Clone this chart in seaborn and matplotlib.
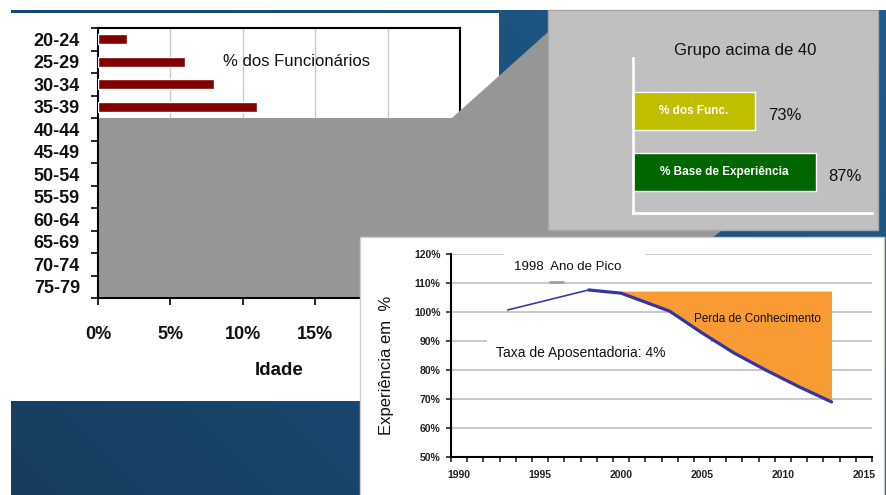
import numpy as np
import pandas as pd
import matplotlib
matplotlib.use("Agg")
import matplotlib.pyplot as plt
from matplotlib.patches import Rectangle, Polygon
from matplotlib.ticker import FixedLocator, FuncFormatter
import seaborn as sns

sns.set_style("white")
plt.rcParams["font.family"] = ["Liberation Sans", "DejaVu Sans"]

# ---------------- data ----------------
# workforce age profile (share of employees per age band)
age_groups = ["20-24", "25-29", "30-34", "35-39", "40-44", "45-49",
              "50-54", "55-59", "60-64", "65-69", "70-74", "75-79"]
age_share_groups = ["20-24", "25-29", "30-34", "35-39"]
age_share_pct = [2, 6, 8, 11]
age_axis_ticks = [0, 5, 10, 15, 20, 25]
age_axis_labels = ["0%", "5%", "10%", "15%", "", ""]

# over-40 group summary
group_labels = ["% dos Func.", "% Base de Experiência"]
group_pct = [73, 87]
group_colors = ["#bfbf00", "#006600"]

# experience base over time (% of 1993 level)
hist_years = [1993, 1998]
hist_exp = [100.7, 107.6]
proj_years = [1998, 2000, 2003, 2005, 2007, 2009, 2011, 2013]
proj_exp = [107.6, 106.5, 100.3, 92.8, 85.8, 79.8, 74.2, 69.0]
loss_start_year = 2000
loss_ceiling = 107.2
year_labels = [1990, 1995, 2000, 2005, 2010, 2015]
exp_ticks = [50, 60, 70, 80, 90, 100, 110, 120]

# ---------------- figure ----------------
W, H = 887, 495
fig = plt.figure(figsize=(W / 100, H / 100), dpi=100, facecolor="white")


def axes_px(left, top, right, bottom, z):
    ax = fig.add_axes([left / W, 1 - bottom / H, (right - left) / W, (bottom - top) / H])
    ax.set_zorder(z)
    return ax


# slide background: blue gradient with a white panel on the left
bg = axes_px(0, 0, W, H, 0)
gx = np.linspace(0, 1, 200)
gy = np.linspace(0, 1, 120)
t = 0.65 * gx[None, :] + 0.35 * (1 - gy[:, None])
c0 = np.array([0x16, 0x3d, 0x5f]) / 255
c1 = np.array([0x20, 0x5c, 0x8d]) / 255
img = c0 + t[..., None] * (c1 - c0)
bg.imshow(img, extent=(11, W, H, 10), aspect="auto", interpolation="bilinear", zorder=0)
bg.add_patch(Rectangle((0, 13), 499, 388, fc="white", ec="none", zorder=1))
bg.set_xlim(0, W)
bg.set_ylim(H, 0)
bg.axis("off")

# ---------------- age profile bars ----------------
axL = axes_px(98, 28, 460, 298, 1)
axL.set_facecolor("white")
df_age = pd.DataFrame({"Faixa": age_share_groups, "Pct": age_share_pct})
for v in age_axis_ticks[1:-1]:
    axL.axvline(v, color="#c8c8c8", lw=1.0, zorder=0)
sns.barplot(data=df_age, x="Pct", y="Faixa", order=age_groups, orient="h",
            color="#800000", width=0.46, saturation=1, ax=axL, zorder=3)
axL.set_xlim(0, 25)
axL.set_ylim(len(age_groups) - 0.5, -0.5)
axL.set_xticks(age_axis_ticks)
axL.set_xticklabels(age_axis_labels)
axL.set_yticks(range(len(age_groups)))
axL.set_yticklabels(age_groups)
axL.yaxis.set_minor_locator(FixedLocator(np.arange(-0.5, len(age_groups), 1.0)))
axL.tick_params(axis="y", which="major", length=0, pad=13, labelsize=13, labelcolor="#111111")
axL.tick_params(axis="y", which="minor", length=5, width=1.4, direction="out", left=True)
axL.tick_params(axis="x", which="major", length=5, width=1.4, direction="out", pad=15,
                labelsize=13, labelcolor="#111111", bottom=True)
for lbl in axL.get_xticklabels() + axL.get_yticklabels():
    lbl.set_fontweight("bold")
for s in axL.spines.values():
    s.set_color("black")
    s.set_linewidth(1.5)
axL.set_ylabel("")
axL.set_xlabel("Idade", fontsize=13.5, fontweight="bold", labelpad=14, color="#111111")
axL.text(8.6, 1, "% dos Funcionários", fontsize=12, va="center", ha="left", color="#111111")

# ---------------- overlay shapes ----------------
ov = axes_px(0, 0, W, H, 2)
ov.patch.set_alpha(0)
ov.add_patch(Polygon([(99, 118), (452, 118), (548, 32), (725, 32), (725, 228),
                      (712, 238), (360, 238), (360, 297), (99, 297)],
                     closed=True, fc="#969696", ec="none", zorder=1))
ov.add_patch(Rectangle((548, 10), 330, 220, fc="#c0c0c0", ec="#a6a6a6", lw=1, zorder=2))
ov.add_patch(Rectangle((360, 237), 524, 262, fc="white", ec="#cfcfcf", lw=1, zorder=2))
ov.text(745, 50, "Grupo acima de 40", fontsize=12, ha="center", va="center",
        color="#111111", zorder=4)
ov.text(387, 365, "Experiência em  %", fontsize=12, rotation=90, ha="center",
        va="center", color="#111111", zorder=4)
ov.set_xlim(0, W)
ov.set_ylim(H, 0)
ov.axis("off")

# ---------------- over-40 group bars ----------------
axB = axes_px(633, 58, 872, 213, 3)
axB.patch.set_alpha(0)
df_grp = pd.DataFrame({"Grupo": group_labels, "Pct": group_pct})
sns.barplot(data=df_grp, x="Pct", y="Grupo", hue="Grupo", palette=group_colors,
            legend=False, orient="h", width=0.62, saturation=1, ax=axB)
axB.set_xlim(45, 100)
axB.set_ylim(1.672, -0.869)
axB.set_xticks([])
axB.set_yticks([])
axB.set_xlabel("")
axB.set_ylabel("")
for side in ("top", "right"):
    axB.spines[side].set_visible(False)
for side in ("left", "bottom"):
    axB.spines[side].set_color("white")
    axB.spines[side].set_linewidth(2)
for i, (lab, v) in enumerate(zip(group_labels, group_pct)):
    axB.text((45 + v) / 2, i, lab, color="white", fontsize=8.5, fontweight="bold",
             ha="center", va="center")
    axB.text(v + 3.0, i + 0.08, f"{v}%", fontsize=12, ha="left", va="center", color="#111111")

# ---------------- experience curve ----------------
axC = axes_px(451, 254, 872, 457, 3)
axC.patch.set_alpha(0)
for v in exp_ticks[1:]:
    axC.axhline(v, color="#c0c0c0", lw=1.2, zorder=0)
# label boxes that mask the grid
axC.add_patch(Rectangle((1992.8, 111.5), 8.7, 10, fc="white", ec="none", zorder=1))
axC.add_patch(Rectangle((1991.7, 85.0), 13.8, 6.0, fc="white", ec="none", zorder=1))

py = np.array(proj_years, dtype=float)
pe = np.array(proj_exp, dtype=float)
mask = py >= loss_start_year
axC.fill_between(py[mask], pe[mask], loss_ceiling, color="#f99b35", lw=0, zorder=2)
sns.lineplot(x=hist_years, y=hist_exp, color="#3a3ab4", lw=1.2, estimator=None,
             ax=axC, zorder=3)
sns.lineplot(x=proj_years, y=proj_exp, color="#3434a6", lw=2.3, estimator=None,
             ax=axC, zorder=4)
axC.plot([1995.6, 1996.4], [110.3, 110.3], color="#a0a0a0", lw=2, zorder=2)

axC.set_xlim(1989.5, 2015.5)
axC.set_ylim(50, 120)
axC.set_xticks(year_labels)
axC.xaxis.set_minor_locator(FixedLocator(np.arange(1989.5, 2016, 1.0)))
axC.set_yticks(exp_ticks)
axC.yaxis.set_major_formatter(FuncFormatter(lambda v, p: f"{v:.0f}%"))
axC.tick_params(axis="x", which="major", length=0, pad=9, labelsize=7.5, labelcolor="#222222")
axC.tick_params(axis="x", which="minor", length=3.5, width=1.2, direction="out", bottom=True)
axC.tick_params(axis="y", which="major", length=3.5, width=1.2, direction="out", pad=4,
                labelsize=7.5, labelcolor="#222222", left=True)
for lbl in axC.get_xticklabels() + axC.get_yticklabels():
    lbl.set_fontweight("bold")
for side in ("top", "right"):
    axC.spines[side].set_visible(False)
for side in ("left", "bottom"):
    axC.spines[side].set_color("black")
    axC.spines[side].set_linewidth(1.5)
axC.set_xlabel("")
axC.set_ylabel("")
axC.text(1993.4, 115.5, "1998  Ano de Pico", fontsize=9.5, va="center", ha="left",
         color="#111111", zorder=5)
axC.text(1992.3, 85.8, "Taxa de Aposentadoria: 4%", fontsize=10, va="center", ha="left",
         color="#111111", zorder=5)
axC.text(2004.5, 97.6, "Perda de Conhecimento", fontsize=8.5, va="center", ha="left",
         color="#111111", zorder=5)

fig.savefig("out.png", dpi=100, facecolor="white")
